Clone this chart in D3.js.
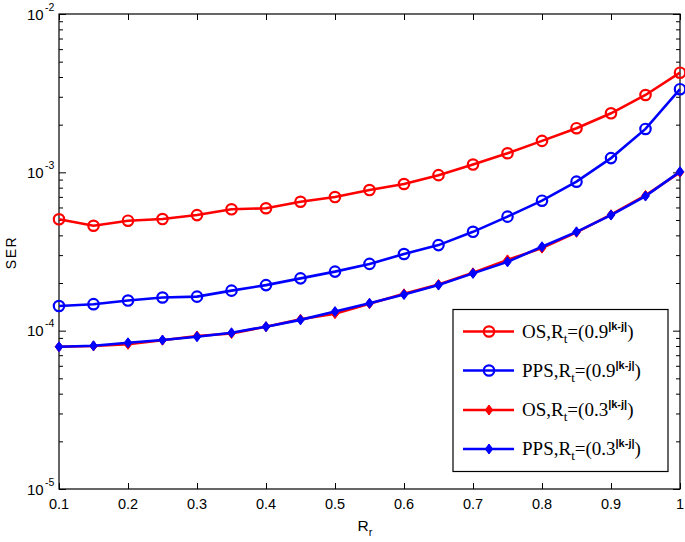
<!DOCTYPE html>
<html><head><meta charset="utf-8">
<script src="https://cdnjs.cloudflare.com/ajax/libs/d3/7.8.5/d3.min.js"></script>
<style>body{margin:0;background:#fff}svg{display:block}</style>
</head><body><svg id="c" width="685" height="542"></svg>
<script>
const rr = [0.1,0.15,0.2,0.25,0.3,0.35,0.4,0.45,0.5,0.55,0.6,0.65,0.7,0.75,0.8,0.85,0.9,0.95,1.0];
const osHigh  = [5.05e-4,4.6e-4,4.95e-4,5.07e-4,5.37e-4,5.84e-4,5.93e-4,6.52e-4,6.98e-4,7.73e-4,8.44e-4,9.6e-4,1.12e-3,1.32e-3,1.58e-3,1.9e-3,2.36e-3,3.08e-3,4.26e-3];
const ppsHigh = [1.43e-4,1.47e-4,1.55e-4,1.62e-4,1.64e-4,1.79e-4,1.94e-4,2.14e-4,2.36e-4,2.64e-4,3.05e-4,3.47e-4,4.21e-4,5.25e-4,6.62e-4,8.73e-4,1.23e-3,1.88e-3,3.35e-3];
const osLow   = [7.91e-5,8.0e-5,8.2e-5,8.7e-5,9.25e-5,9.6e-5,1.06e-4,1.18e-4,1.28e-4,1.48e-4,1.71e-4,1.96e-4,2.32e-4,2.8e-4,3.32e-4,4.18e-4,5.4e-4,7.15e-4,1.0e-3];
const ppsLow  = [7.91e-5,8.03e-5,8.39e-5,8.73e-5,9.15e-5,9.7e-5,1.06e-4,1.17e-4,1.32e-4,1.49e-4,1.69e-4,1.94e-4,2.3e-4,2.72e-4,3.39e-4,4.21e-4,5.37e-4,7.08e-4,1.01e-3];
const xTicks = [0.1,0.2,0.3,0.4,0.5,0.6,0.7,0.8,0.9,1];
const xTickLabels = ["0.1","0.2","0.3","0.4","0.5","0.6","0.7","0.8","0.9","1"];
const yMajor = [1e-5,1e-4,1e-3,1e-2];
const yExpLabels = ["-5","-4","-3","-2"];
const seriesNames = ["OS","PPS","OS","PPS"];
const seriesBase = ["0.9","0.9","0.3","0.3"];
const seriesColors = ["#ff0000","#0000ff","#ff0000","#0000ff"];
const seriesMarkers = ["circle","circle","diamond","diamond"];

const svg = d3.select("#c");
const L=59,R=680,T=14,B=489;
const x = d3.scaleLinear().domain([0.1,1]).range([L,R]);
const y = d3.scaleLog().domain([1e-5,1e-2]).range([B,T]);
const sans = "Liberation Sans, Arial, Helvetica, sans-serif";
const serif = "Liberation Serif, Times New Roman, serif";

const minor = [];
for (let e=-5;e<-2;e++) for (let m=2;m<=9;m++) minor.push(m*Math.pow(10,e));

const g = svg.append("g");
g.append("g").attr("transform",`translate(0,${B})`)
  .call(d3.axisBottom(x).tickValues(xTicks).tickSize(-6).tickFormat(""))
  .call(a=>{a.select(".domain").remove();a.selectAll("line").attr("stroke","#000");});
g.append("g").attr("transform",`translate(0,${T})`)
  .call(d3.axisTop(x).tickValues(xTicks).tickSize(-6).tickFormat(""))
  .call(a=>{a.select(".domain").remove();a.selectAll("line").attr("stroke","#000");});
[[L,d3.axisLeft],[R,d3.axisRight]].forEach(([px,fn])=>{
  g.append("g").attr("transform",`translate(${px},0)`)
    .call(fn(y).tickValues(yMajor).tickSize(-7).tickFormat(""))
    .call(a=>{a.select(".domain").remove();a.selectAll("line").attr("stroke","#000");});
  g.append("g").attr("transform",`translate(${px},0)`)
    .call(fn(y).tickValues(minor).tickSize(-4).tickFormat(""))
    .call(a=>{a.select(".domain").remove();a.selectAll("line").attr("stroke","#000");});
});
svg.append("rect").attr("x",L).attr("y",T).attr("width",R-L).attr("height",B-T)
  .attr("fill","none").attr("stroke","#000").attr("stroke-width",1.2);

svg.append("g").selectAll("text").data(xTicks).join("text")
  .attr("x",d=>x(d)).attr("y",B+19.5).attr("text-anchor","middle")
  .attr("font-family",sans).attr("font-size",14.5).text((d,i)=>xTickLabels[i]);

const yl = svg.append("g").selectAll("text").data(yMajor).join("text")
  .attr("x",27).attr("y",d=>y(d)+5.5)
  .attr("font-family",sans).attr("font-size",15);
yl.append("tspan").text("10");
yl.append("tspan").attr("x",45).attr("dy",-9).attr("font-size",10.5).text((d,i)=>yExpLabels[i]);

svg.append("text").attr("transform",`translate(15.5,252.5) rotate(-90)`)
  .attr("text-anchor","middle").attr("font-family",sans).attr("font-size",14)
  .attr("letter-spacing",1.5).text("SER");
const xt = svg.append("text").attr("x",357.5).attr("y",531).attr("font-family",sans).attr("font-size",15.5);
xt.append("tspan").text("R");
xt.append("tspan").attr("dy",5).attr("font-size",11).text("r");

const allSeries = [osHigh,ppsHigh,osLow,ppsLow];
const line = d3.line().x((d,i)=>x(rr[i])).y(d=>y(d));
const diamond = s=>`M0,${-s}L${s*0.75},0L0,${s}L${-s*0.75},0Z`;
function marker(sel,type,color){
  if(type==="circle") sel.append("circle").attr("r",5.2).attr("fill","none").attr("stroke",color).attr("stroke-width",2.2);
  else sel.append("path").attr("d",diamond(5)).attr("fill",color).attr("stroke",color).attr("stroke-width",1);
}
allSeries.forEach((s,k)=>{
  const gg = svg.append("g");
  gg.append("path").datum(s).attr("d",line).attr("fill","none").attr("stroke",seriesColors[k]).attr("stroke-width",2.6);
  gg.selectAll("g").data(s).join("g").attr("transform",(d,i)=>`translate(${x(rr[i])},${y(d)})`)
    .each(function(){marker(d3.select(this),seriesMarkers[k],seriesColors[k]);});
});

const lg = svg.append("g");
lg.append("rect").attr("x",453).attr("y",309.5).attr("width",215).attr("height",162)
  .attr("fill","#fff").attr("stroke","#000").attr("stroke-width",1.2);
const rowY=[331.5,370.5,410,449];
seriesNames.forEach((n,k)=>{
  const ry=rowY[k];
  lg.append("line").attr("x1",463).attr("x2",514).attr("y1",ry).attr("y2",ry).attr("stroke",seriesColors[k]).attr("stroke-width",2.6);
  const mg=lg.append("g").attr("transform",`translate(489,${ry})`);
  marker(mg,seriesMarkers[k],seriesColors[k]);
  const t=lg.append("text").attr("x",522).attr("y",ry+6).attr("font-family",serif).attr("font-size",19);
  t.append("tspan").text(n+",R");
  t.append("tspan").attr("dy",5).attr("font-size",13).text("t");
  t.append("tspan").attr("dy",-5).text("=(" + seriesBase[k]);
  t.append("tspan").attr("dy",-8).attr("font-size",11).attr("font-weight","bold").attr("font-family",sans).text("|k-j|");
  t.append("tspan").attr("dy",8).text(")");
});
</script></body></html>
